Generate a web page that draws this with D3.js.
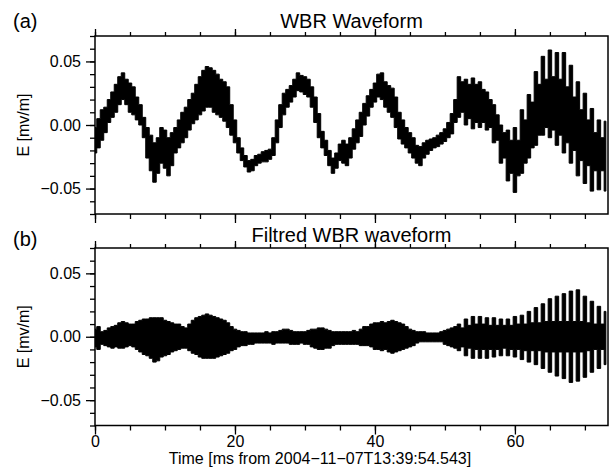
<!DOCTYPE html>
<html>
<head>
<meta charset="utf-8">
<script src="https://cdn.jsdelivr.net/npm/d3@7"></script>
<style>
  html, body { margin: 0; padding: 0; background: #fff; }
  svg { display: block; }
  text { font-family: "Liberation Sans", Arial, Helvetica, sans-serif; fill: #000; }
</style>
</head>
<body>
<svg id="chart" width="610" height="470"></svg>
<script>
// WBR waveform, two panels. Band = min/max of E per 0.5 ms sample, units 1e-3 mV/m.
const DT = 0.5; // ms per sample

// (a) raw waveform, upper / lower edge of the trace
const aHi = [
  -2, 5, 12, 14, 20, 26, 32, 38, 41, 36,
  33, 30, 22, 16, 6, -2, -8, -14, -10, -2,
  -4, -10, -6, -2, 4, 10, 14, 20, 25, 32,
  38, 43, 46, 45, 43, 40, 36, 34, 30, 16,
  4, -10, -18, -24, -28, -27, -24, -23, -21, -20,
  -19, -10, 4, 16, 25, 28, 31, 36, 41, 39,
  38, 36, 30, 22, 9, -5, -12, -20, -26, -22,
  -15, -12, -15, -10, -3, 4, 10, 17, 23, 28,
  33, 40, 41, 34, 31, 29, 22, 10, 4, -2,
  -6, -10, -16, -17, -14, -12, -11, -10, -8, -6,
  -3, 2, 9, 20, 38, 34, 36, 32, 37, 32,
  34, 28, 26, 20, 16, 8, 0, -6, -4, -12,
  -2, -12, 12, 4, 24, 18, 42, 32, 54, 36,
  59, 38, 57, 36, 57, 30, 47, 22, 34, 12,
  25, 4, 13, -6, 4, -10, 3
];
const aLo = [
  -22, -18, -12, -6, 2, 6, 10, 16, 20, 16,
  10, 8, 4, 0, -10, -26, -36, -45, -38, -30,
  -34, -40, -32, -22, -18, -14, -10, -4, 1, 4,
  8, 11, 14, 14, 10, 8, 6, 3, -2, -8,
  -14, -22, -28, -33, -37, -36, -32, -30, -29, -29,
  -27, -24, -14, -2, 8, 14, 18, 22, 27, 26,
  24, 22, 14, 2, -10, -18, -24, -32, -38, -34,
  -28, -30, -32, -26, -19, -14, -9, 0, 7, 14,
  18, 22, 20, 14, 10, 6, -2, -11, -15, -18,
  -22, -26, -30, -32, -26, -23, -20, -18, -17, -15,
  -13, -10, -7, 2, 6, 10, 0, 5, -3, 2,
  -2, 2, -4, -2, -14, -12, -30, -26, -44, -38,
  -53, -40, -38, -30, -26, -18, -16, -8, -8, -2,
  -10, -4, -16, -8, -22, -14, -30, -20, -40, -28,
  -46, -32, -52, -36, -51, -36, -52
];

// (b) filtered waveform
const bHi = [
  6, 8, 4, 5, 7, 8, 9, 11, 12, 11,
  10, 10, 12, 13, 14, 14, 15, 15, 15, 15,
  13, 12, 11, 10, 10, 8, 7, 10, 13, 15,
  16, 17, 18, 17, 16, 15, 14, 13, 11, 8,
  6, 5, 4, 4, 3, 3, 3, 3, 3, 4,
  3, 4, 4, 5, 6, 6, 5, 4, 4, 4,
  4, 5, 6, 6, 7, 7, 6, 5, 4, 4,
  4, 4, 4, 4, 5, 4, 6, 8, 8, 10,
  11, 11, 12, 11, 12, 13, 12, 11, 10, 8,
  6, 5, 4, 4, 4, 3, 3, 3, 3, 4,
  5, 6, 7, 8, 10, 7, 14, 9, 16, 10,
  16, 10, 15, 9, 15, 9, 14, 9, 14, 9,
  16, 10, 17, 10, 20, 11, 23, 11, 26, 12,
  30, 12, 32, 12, 34, 12, 36, 12, 37, 12,
  32, 11, 28, 10, 24, 10, 20
];
const bLo = [
  -8, -10, -6, -7, -8, -9, -8, -9, -9, -8,
  -7, -8, -10, -12, -14, -15, -17, -20, -19, -16,
  -15, -14, -12, -11, -10, -9, -9, -11, -13, -14,
  -16, -17, -17, -17, -17, -16, -15, -14, -13, -11,
  -10, -8, -7, -7, -6, -6, -5, -5, -5, -5,
  -5, -6, -5, -5, -5, -5, -6, -6, -6, -5,
  -6, -6, -8, -9, -10, -10, -9, -9, -7, -6,
  -6, -6, -6, -6, -6, -6, -7, -7, -7, -8,
  -10, -10, -11, -10, -12, -13, -12, -11, -10, -9,
  -8, -7, -5, -4, -4, -4, -4, -4, -4, -4,
  -6, -7, -8, -9, -11, -8, -15, -9, -17, -10,
  -17, -10, -17, -10, -16, -10, -15, -9, -15, -10,
  -16, -10, -18, -11, -20, -11, -22, -11, -25, -12,
  -28, -12, -31, -12, -33, -12, -36, -12, -35, -12,
  -32, -11, -28, -10, -25, -10, -22
];

const panelTags = ["(a)", "(b)"];
const panelTitles = ["WBR Waveform", "Filtred WBR waveform"];
const panelHi = [aHi, bHi];
const panelLo = [aLo, bLo];
const xMajor = [0, 20, 40, 60];
const xMinor = [0, 5, 10, 15, 20, 25, 30, 35, 40, 45, 50, 55, 60, 65, 70];
const yMajor = [-0.05, 0, 0.05];
const yMinor = [-0.07, -0.06, -0.05, -0.04, -0.03, -0.02, -0.01, 0, 0.01, 0.02, 0.03, 0.04, 0.05, 0.06, 0.07];
const yLabel = "E [mv/m]";
const xLabel = "Time [ms from 2004\u221211\u221207T13:39:54.543]";

// layout
const ML = 95, MR = 608;
const BOX = [
  { top: 36, bot: 214, titleY: 28, tagY: 28 },
  { top: 248, bot: 425.5, titleY: 242, tagY: 246 }
];
const FS = 16, FS_TITLE = 20;

const svg = d3.select("#chart");
const x = d3.scaleLinear().domain([0, 73.3]).range([ML, MR]);

const styleAxis = g => {
  g.select(".domain").remove();
  g.selectAll("line").attr("stroke", "#000").attr("stroke-width", 1.3);
  g.selectAll("text").attr("font-size", FS).attr("font-family", "'Liberation Sans', Arial, sans-serif").attr("fill", "#000");
};

BOX.forEach((b, p) => {
  const y = d3.scaleLinear().domain([-0.07, 0.07]).range([b.bot, b.top]);
  const g = svg.append("g");

  // clip so the band stays inside the frame
  const cid = "clip" + p;
  svg.append("clipPath").attr("id", cid).append("rect")
    .attr("x", ML).attr("y", b.top).attr("width", MR - ML).attr("height", b.bot - b.top);

  const hi = panelHi[p], lo = panelLo[p];
  const area = d3.area()
    .x((d, i) => x(i * DT))
    .y0((d, i) => y(lo[i] / 1000))
    .y1((d, i) => y(hi[i] / 1000))
    .curve(d3.curveStep);
  g.append("path")
    .attr("clip-path", `url(#${cid})`)
    .attr("d", area(hi))
    .attr("fill", "#000").attr("stroke", "#000").attr("stroke-width", 1).attr("stroke-linejoin", "miter");

  // frame
  g.append("rect")
    .attr("x", ML).attr("y", b.top).attr("width", MR - ML).attr("height", b.bot - b.top)
    .attr("fill", "none").attr("stroke", "#000").attr("stroke-width", 1.5);

  // left axis
  g.append("g").attr("transform", `translate(${ML},0)`)
    .call(d3.axisLeft(y).tickValues(yMinor).tickSize(5).tickSizeOuter(0).tickFormat(""))
    .call(styleAxis);
  g.append("g").attr("transform", `translate(${ML},0)`)
    .call(d3.axisLeft(y).tickValues(yMajor).tickSize(9).tickSizeOuter(0).tickPadding(5).tickFormat(d3.format(".2f")))
    .call(styleAxis);

  // top axis
  g.append("g").attr("transform", `translate(0,${b.top})`)
    .call(d3.axisTop(x).tickValues(xMinor).tickSize(4).tickSizeOuter(0).tickFormat(""))
    .call(styleAxis);
  g.append("g").attr("transform", `translate(0,${b.top})`)
    .call(d3.axisTop(x).tickValues(xMajor).tickSize(7).tickSizeOuter(0).tickFormat(""))
    .call(styleAxis);

  // bottom axis (labels only on the lower panel)
  g.append("g").attr("transform", `translate(0,${b.bot})`)
    .call(d3.axisBottom(x).tickValues(xMinor).tickSize(5).tickSizeOuter(0).tickFormat(""))
    .call(styleAxis);
  const bx = d3.axisBottom(x).tickValues(xMajor).tickSize(9).tickSizeOuter(0).tickPadding(1);
  if (p === 0) bx.tickFormat("");
  g.append("g").attr("transform", `translate(0,${b.bot})`).call(bx).call(styleAxis);

  // titles and labels
  g.append("text").attr("x", (ML + MR) / 2).attr("y", b.titleY)
    .attr("text-anchor", "middle").attr("font-size", FS_TITLE).text(panelTitles[p]);
  g.append("text").attr("x", 13).attr("y", b.tagY)
    .attr("font-size", FS_TITLE).text(panelTags[p]);
  const yc = (b.top + b.bot) / 2;
  g.append("text").attr("transform", `translate(29,${yc}) rotate(-90)`)
    .attr("text-anchor", "middle").attr("font-size", FS).text(yLabel);
});

svg.append("text").attr("x", 320).attr("y", 464)
  .attr("text-anchor", "middle").attr("font-size", FS).text(xLabel);
</script>
</body>
</html>
